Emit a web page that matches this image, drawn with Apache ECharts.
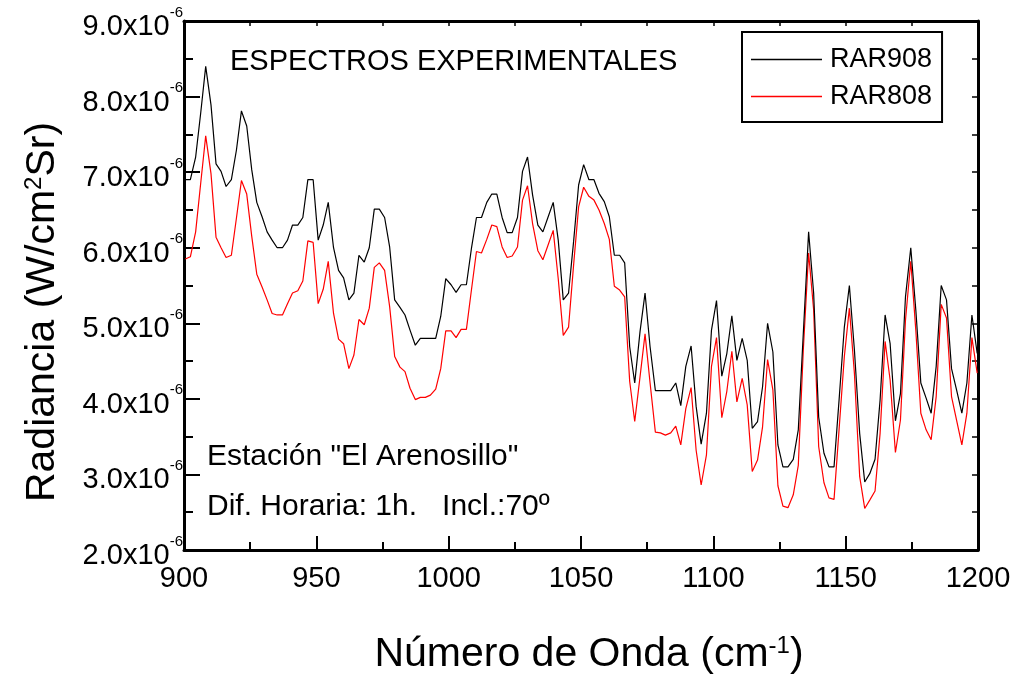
<!DOCTYPE html>
<html>
<head>
<meta charset="utf-8">
<script src="https://cdn.jsdelivr.net/npm/echarts@6/dist/echarts.min.js"></script>
<style>html,body{margin:0;padding:0;background:#fff}#c{width:1013px;height:677px}</style>
</head>
<body>
<div id="c"></div>
<script>
// Wavenumber (cm^-1)
const wavenumbers = [900.5,902.4,904.4,906.3,908.2,910.2,912.1,914.0,915.9,917.9,
919.8,921.7,923.7,925.6,927.5,929.5,931.4,933.3,935.2,937.2,
939.1,941.0,943.0,944.9,946.8,948.8,950.7,952.6,954.5,956.5,
958.4,960.3,962.3,964.2,966.1,968.1,970.0,971.9,973.8,975.8,
977.7,979.6,981.6,983.5,985.4,987.4,989.3,991.2,993.1,995.1,
997.0,998.9,1000.9,1002.8,1004.7,1006.7,1008.6,1010.5,1012.4,1014.4,
1016.3,1018.2,1020.2,1022.1,1024.0,1026.0,1027.9,1029.8,1031.7,1033.7,
1035.6,1037.5,1039.5,1041.4,1043.3,1045.3,1047.2,1049.1,1051.0,1053.0,
1054.9,1056.8,1058.8,1060.7,1062.6,1064.6,1066.5,1068.4,1070.3,1072.3,
1074.2,1076.1,1078.1,1080.0,1081.9,1083.9,1085.8,1087.7,1089.6,1091.6,
1093.5,1095.4,1097.4,1099.3,1101.2,1103.2,1105.1,1107.0,1108.9,1110.9,
1112.8,1114.7,1116.7,1118.6,1120.5,1122.5,1124.4,1126.3,1128.2,1130.2,
1132.1,1134.0,1136.0,1137.9,1139.8,1141.8,1143.7,1145.6,1147.5,1149.5,
1151.4,1153.3,1155.3,1157.2,1159.1,1161.1,1163.0,1164.9,1166.8,1168.8,
1170.7,1172.6,1174.6,1176.5,1178.4,1180.4,1182.3,1184.2,1186.1,1188.1,
1190.0,1191.9,1193.9,1195.8,1197.7,1199.7];

// Radiance, in units of 1e-6 W/(cm^2 Sr)
const rar908 = [6.90,6.90,7.20,7.78,8.40,7.89,7.11,7.01,6.81,6.90,
7.29,7.81,7.61,7.03,6.60,6.41,6.21,6.10,6.00,6.00,
6.10,6.30,6.30,6.40,6.90,6.90,6.10,6.30,6.60,6.00,
5.70,5.60,5.31,5.40,5.90,5.81,6.00,6.51,6.51,6.40,
6.01,5.31,5.21,5.11,4.91,4.71,4.80,4.80,4.80,4.80,
5.09,5.59,5.51,5.41,5.51,5.51,5.99,6.40,6.40,6.60,
6.71,6.71,6.40,6.20,6.20,6.40,7.01,7.20,6.70,6.30,
6.21,6.40,6.60,6.10,5.31,5.40,6.08,6.83,7.10,6.90,
6.90,6.72,6.61,6.41,5.90,5.90,5.80,4.69,4.21,4.89,
5.40,4.69,4.11,4.11,4.11,4.11,4.21,3.91,4.43,4.70,
3.90,3.40,3.81,4.91,5.30,4.30,4.60,5.10,4.51,4.80,
4.51,3.61,3.70,4.16,5.00,4.62,3.39,3.10,3.10,3.20,
3.59,4.87,6.21,5.40,3.76,3.28,3.10,3.10,3.98,4.95,
5.50,4.65,3.54,2.90,3.01,3.20,3.98,5.11,4.73,3.71,
4.07,5.35,6.00,5.18,4.21,4.01,3.81,4.43,5.50,5.31,
4.40,4.12,3.81,4.21,5.11,4.60];

const rar808 = [5.85,5.88,6.21,6.85,7.48,6.98,6.14,6.00,5.87,5.90,
6.39,6.89,6.71,6.15,5.65,5.48,5.31,5.13,5.11,5.11,
5.26,5.40,5.43,5.56,6.09,6.07,5.26,5.45,5.82,5.13,
4.79,4.73,4.40,4.58,5.05,4.98,5.20,5.74,5.80,5.70,
5.22,4.56,4.42,4.36,4.14,3.99,4.02,4.02,4.05,4.13,
4.40,4.90,4.90,4.81,4.92,4.92,5.44,5.95,5.93,6.11,
6.30,6.28,6.01,5.87,5.89,6.01,6.63,6.82,6.32,5.96,
5.84,6.03,6.23,5.59,4.84,4.95,5.77,6.54,6.80,6.68,
6.63,6.50,6.32,6.11,5.49,5.44,5.35,4.23,3.70,4.29,
4.86,4.21,3.56,3.55,3.52,3.55,3.64,3.39,3.87,4.15,
3.32,2.86,3.26,4.43,4.81,3.75,4.10,4.63,3.96,4.27,
3.92,3.04,3.19,3.63,4.52,4.12,2.85,2.58,2.56,2.73,
3.12,4.65,5.93,5.18,3.37,2.89,2.69,2.67,3.59,4.56,
5.20,4.34,2.97,2.55,2.66,2.78,3.54,4.76,4.25,3.29,
3.72,5.04,5.82,4.91,3.81,3.59,3.46,4.03,5.25,5.07,
4.03,3.72,3.39,3.81,4.81,4.34];

const seriesNames = ['RAR908', 'RAR808'];
const seriesColors = ['#000000', '#ff0000'];
const yTickMantissas = ['2.0','3.0','4.0','5.0','6.0','7.0','8.0','9.0'];
const yExponent = '-6';

const FONT = 'Liberation Sans, Arial, sans-serif';
const chart = echarts.init(document.getElementById('c'), null, {renderer: 'canvas'});

const pair = (ys) => wavenumbers.map((x, i) => [x, ys[i]]);
const axisLine = {show: true, lineStyle: {color: '#000', width: 3}};

const option = {
  animation: false,
  backgroundColor: '#fff',
  grid: {left: 184, right: 35, top: 21, bottom: 127, containLabel: false, outerBoundsMode: 'none'},
  xAxis: [
    {
      type: 'value', position: 'bottom', min: 900, max: 1200, interval: 50,
      axisLine: axisLine,
      axisTick: {show: true, inside: true, length: 14, lineStyle: {color: '#000', width: 2}},
      minorTick: {show: true, splitNumber: 2, length: 8, lineStyle: {color: '#000', width: 2}},
      splitLine: {show: false},
      axisLabel: {show: true, color: '#000', fontFamily: FONT, fontSize: 29, margin: 14,
        formatter: (v) => String(v)}
    },
    {
      type: 'value', position: 'top', min: 900, max: 1200, interval: 50,
      axisLine: axisLine,
      axisTick: {show: true, inside: true, length: 5, lineStyle: {color: '#000', width: 1.5}},
      minorTick: {show: true, splitNumber: 2, length: 5, lineStyle: {color: '#000', width: 1.5}},
      splitLine: {show: false},
      axisLabel: {show: false}
    }
  ],
  yAxis: [
    {
      type: 'value', position: 'left', min: 2, max: 9, interval: 1,
      axisLine: axisLine,
      axisTick: {show: true, inside: true, length: 16, lineStyle: {color: '#000', width: 2}},
      minorTick: {show: true, splitNumber: 2, length: 9, lineStyle: {color: '#000', width: 2}},
      splitLine: {show: false},
      axisLabel: {
        show: true, margin: 1, padding: [12, 0, 0, 0],
        formatter: (v) => '{a|' + yTickMantissas[Math.round(v) - 2] + 'x10}{b|' + yExponent + '}',
        rich: {
          a: {fontFamily: FONT, fontSize: 29, lineHeight: 44, color: '#000'},
          b: {fontFamily: FONT, fontSize: 15, lineHeight: 15, color: '#000', verticalAlign: 'top'}
        }
      }
    },
    {
      type: 'value', position: 'right', min: 2, max: 9, interval: 1,
      axisLine: axisLine,
      axisTick: {show: true, inside: true, length: 6, lineStyle: {color: '#000', width: 1.5}},
      minorTick: {show: true, splitNumber: 2, length: 6, lineStyle: {color: '#000', width: 1.5}},
      splitLine: {show: false},
      axisLabel: {show: false}
    }
  ],
  legend: {
    orient: 'vertical', left: 742, top: 32,
    padding: [14, 10, 12, 9], itemGap: 10, itemWidth: 71, itemHeight: 1.3,
    icon: 'rect',
    borderColor: '#000', borderWidth: 2, backgroundColor: '#fff',
    selectedMode: false,
    textStyle: {fontFamily: FONT, fontSize: 27, color: '#000', padding: [0, 0, 0, 3]},
    data: seriesNames
  },
  series: [
    {name: seriesNames[0], type: 'line', data: pair(rar908), symbol: 'none',
     lineStyle: {color: seriesColors[0], width: 1.2}, itemStyle: {color: seriesColors[0]}, z: 3},
    {name: seriesNames[1], type: 'line', data: pair(rar808), symbol: 'none',
     lineStyle: {color: seriesColors[1], width: 1.2}, itemStyle: {color: seriesColors[1]}, z: 2}
  ],
  graphic: [
    {type: 'text', x: 230, y: 62, style: {text: 'ESPECTROS EXPERIMENTALES', fontFamily: FONT, fontSize: 29, fill: '#000', align: 'left', verticalAlign: 'middle'}},
    {type: 'text', x: 207, y: 457, style: {text: 'Estación "El Arenosillo"', fontFamily: FONT, fontSize: 30, fill: '#000', align: 'left', verticalAlign: 'middle'}},
    {type: 'text', x: 207, y: 507, style: {text: 'Dif. Horaria: 1h.   Incl.:70º', fontFamily: FONT, fontSize: 30, fill: '#000', align: 'left', verticalAlign: 'middle'}},
    {type: 'text', x: 43, y: 312, rotation: Math.PI / 2,
     style: {text: '{a|Radiancia (W/cm}{s|2}{a|Sr)}', align: 'center', verticalAlign: 'middle',
       rich: {a: {fontFamily: FONT, fontSize: 41, color: '#000'}, s: {fontFamily: FONT, fontSize: 24, color: '#000', verticalAlign: 'top'}}}},
    {type: 'text', x: 589, y: 655,
     style: {text: '{a|Número de Onda (cm}{s|-1}{a|)}', align: 'center', verticalAlign: 'middle',
       rich: {a: {fontFamily: FONT, fontSize: 41, color: '#000'}, s: {fontFamily: FONT, fontSize: 24, color: '#000', verticalAlign: 'top'}}}}
  ]
};
chart.setOption(option);
</script>
</body>
</html>
